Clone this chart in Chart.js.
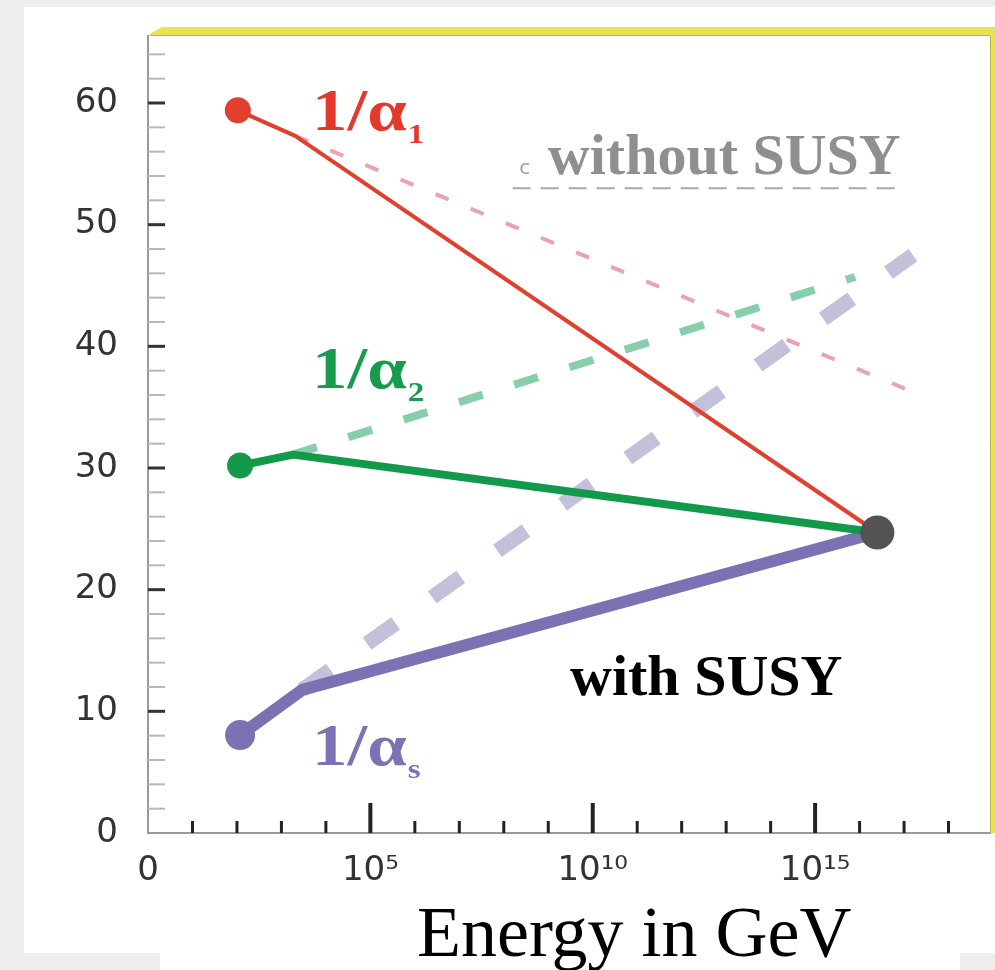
<!DOCTYPE html>
<html>
<head>
<meta charset="utf-8">
<script src="https://cdn.jsdelivr.net/npm/chart.js@4.4.1/dist/chart.umd.min.js"></script>
<style>
  html, body { margin: 0; padding: 0; background: #eeeeee; }
  #wrap { position: relative; width: 995px; height: 970px; }
</style>
</head>
<body>
<div id="wrap"><canvas id="gut"></canvas></div>
<script>
// x = log10(E / GeV), y = 1/alpha
const susyX1 = [2.02, 3.31, 16.4];
const susyY1 = [59.4, 57.3, 24.7];
const susyX2 = [2.07, 3.26, 16.4];
const susyY2 = [30.2, 31.1, 24.7];
const susyXs = [2.07, 3.46, 16.4];
const susyYs = [8.05, 11.75, 24.7];

// Standard Model running (no SUSY)
const smX1 = [3.31, 17.1];
const smY1 = [57.3, 36.4];
const smX2 = [3.26, 15.9];
const smY2 = [31.1, 45.7];
const smXs = [3.46, 17.2];
const smYs = [11.75, 47.5];

// unification point
const gutX = [16.4];
const gutY = [24.7];

const yTicks = [0, 10, 20, 30, 40, 50, 60];
const xTickLabels = { 0: '0', 5: '10⁵', 10: '10¹⁰', 15: '10¹⁵' };

function pts(xs, ys) {
    return xs.map((x, i) => ({ x: x, y: ys[i] }));
}

const serif = '"Liberation Serif", "DejaVu Serif", serif';
const sans = '"DejaVu Sans", "Liberation Sans", sans-serif';

// coupling labels, anchored in data units
const couplingLabels = [
    { text: '1/α', sub: '1', x: 3.69, y: 57.8, color: '#e2392c' },
    { text: '1/α', sub: '2', x: 3.69, y: 36.6, color: '#169c4c' },
    { text: '1/α', sub: 's', x: 3.69, y: 5.6, color: '#7b73b3' }
];

const decor = {
    id: 'decor',
    beforeDraw(chart) {
        const c = chart.ctx;
        c.save();
        c.fillStyle = '#eeeeee';
        c.fillRect(0, 0, chart.width, chart.height);
        c.fillStyle = '#ffffff';
        c.fillRect(24, 7, 971, 946);
        c.restore();
    },
    beforeDatasetsDraw(chart) {
        const c = chart.ctx;
        const a = chart.chartArea;
        const x = chart.scales.x, y = chart.scales.y;
        c.save();
        // yellow frame
        c.fillStyle = '#e9e251';
        c.beginPath();
        c.moveTo(a.left, a.top + 5);
        c.lineTo(a.left + 14, a.top - 3);
        c.lineTo(chart.width, a.top - 3);
        c.lineTo(chart.width, a.top + 5);
        c.closePath();
        c.fill();
        c.fillRect(a.right - 2, a.top - 3, 4, a.bottom - a.top + 3);
        c.strokeStyle = '#bdb547';
        c.lineWidth = 1;
        c.beginPath();
        c.moveTo(a.left + 2, a.top + 5.5);
        c.lineTo(a.right - 2.5, a.top + 5.5);
        c.lineTo(a.right - 2.5, a.bottom);
        c.stroke();

        // axis lines
        c.strokeStyle = '#9a9a9a';
        c.lineWidth = 2;
        c.beginPath();
        c.moveTo(a.left, a.top + 5);
        c.lineTo(a.left, a.bottom);
        c.lineTo(a.right - 2, a.bottom);
        c.stroke();

        // y ticks, pointing inwards
        for (let v = 2; v <= 64; v += 2) {
            const py = y.getPixelForValue(v);
            const major = v % 10 === 0;
            c.strokeStyle = major ? '#333333' : '#b8b8b8';
            c.lineWidth = major ? 3 : 2;
            c.beginPath();
            c.moveTo(a.left, py);
            c.lineTo(a.left + 17, py);
            c.stroke();
        }
        // x ticks, one per decade
        for (let v = 1; v <= 18; v++) {
            const px = x.getPixelForValue(v);
            const major = v % 5 === 0;
            c.strokeStyle = '#222222';
            c.lineWidth = major ? 4 : 3;
            c.beginPath();
            c.moveTo(px, a.bottom);
            c.lineTo(px, a.bottom - (major ? 30 : 12));
            c.stroke();
        }
        c.restore();
    },
    afterDatasetsDraw(chart) {
        const c = chart.ctx;
        const a = chart.chartArea;
        const x = chart.scales.x, y = chart.scales.y;
        c.save();
        c.textAlign = 'left';
        c.textBaseline = 'alphabetic';

        // the original artwork is a little stretched sideways
        couplingLabels.forEach(l => {
            c.save();
            c.translate(x.getPixelForValue(l.x), y.getPixelForValue(l.y));
            c.scale(1.18, 1);
            c.fillStyle = l.color;
            c.font = 'bold 60px ' + serif;
            c.fillText(l.text, 0, 0);
            const w = c.measureText(l.text).width;
            c.font = 'bold 28px ' + serif;
            c.fillText(l.sub, w + 1, 13);
            c.restore();
        });

        // "without SUSY" legend remnant
        c.strokeStyle = '#a8a8a8';
        c.lineWidth = 2;
        c.setLineDash([18, 10]);
        c.beginPath();
        c.moveTo(x.getPixelForValue(8.2), y.getPixelForValue(53.0));
        c.lineTo(x.getPixelForValue(16.95), y.getPixelForValue(53.0));
        c.stroke();
        c.setLineDash([]);
        c.fillStyle = '#a0a0a0';
        c.font = '20px ' + sans;
        c.fillText('c', x.getPixelForValue(8.35), y.getPixelForValue(54.2));

        let bx = x.getPixelForValue(8.66), by = y.getPixelForValue(59.4);
        c.fillStyle = '#ffffff';
        c.fillRect(bx, by, x.getPixelForValue(17.02) - bx, y.getPixelForValue(53.4) - by);
        c.fillStyle = '#8f8f8f';
        c.font = 'bold 58px ' + serif;
        c.fillText('without SUSY', x.getPixelForValue(8.99), y.getPixelForValue(54.2));

        // "with SUSY"
        bx = x.getPixelForValue(9.15); by = y.getPixelForValue(16.43);
        c.fillStyle = '#ffffff';
        c.fillRect(bx, by, x.getPixelForValue(18.37) - bx, y.getPixelForValue(7.89) - by);
        c.fillStyle = '#000000';
        c.font = 'bold 58px ' + serif;
        c.fillText('with SUSY', x.getPixelForValue(9.49), y.getPixelForValue(11.34));

        // axis title box
        c.fillStyle = '#ffffff';
        c.fillRect(a.left + 12, a.bottom + 52, 800, chart.height - a.bottom - 52);
        c.fillStyle = '#000000';
        c.font = '72px ' + serif;
        c.fillText('Energy in GeV', a.left + 269, a.bottom + 123);
        c.restore();
    }
};

const solid = (data, color, width, radius) => ({
    data: data,
    borderColor: color,
    backgroundColor: color,
    borderWidth: width,
    borderJoinStyle: 'round',
    pointRadius: [radius, 0, 0],
    pointBorderWidth: 0,
    pointBackgroundColor: color,
    tension: 0
});

const dashed = (data, color, width, dash) => ({
    data: data,
    borderColor: color,
    borderWidth: width,
    borderDash: dash,
    borderCapStyle: 'butt',
    pointRadius: 0,
    tension: 0
});

new Chart(document.getElementById('gut').getContext('2d'), {
    type: 'line',
    data: {
        datasets: [
            { data: pts(gutX, gutY), showLine: false, pointRadius: 17, pointBorderWidth: 0,
              pointBackgroundColor: '#545252', backgroundColor: '#545252' },
            solid(pts(susyX1, susyY1), '#e1402e', 4, 13),
            solid(pts(susyX2, susyY2), '#12994a', 8, 13),
            solid(pts(susyXs, susyYs), '#7a72b2', 12, 15),
            dashed(pts(smX1, smY1), '#e9a3ad', 4, [14, 24]),
            dashed(pts(smX2, smY2), '#86cfaa', 8, [25, 33]),
            dashed(pts(smXs, smYs), '#c3c1da', 15, [35, 45])
        ]
    },
    options: {
        responsive: true,
        maintainAspectRatio: false,
        devicePixelRatio: 1,
        animation: false,
        layout: { autoPadding: false, padding: { left: 24, top: 30, right: 2, bottom: 0 } },
        plugins: { legend: { display: false }, tooltip: { enabled: false } },
        scales: {
            x: {
                type: 'linear',
                min: 0,
                max: 19,
                grid: { display: false, drawTicks: false },
                border: { display: false },
                ticks: {
                    stepSize: 5,
                    includeBounds: false,
                    autoSkip: false,
                    maxRotation: 0,
                    padding: 18,
                    color: '#333333',
                    font: { family: sans, size: 34 },
                    callback: v => xTickLabels[v] ?? ''
                },
                afterFit: s => {
                    s.height = 137;
                    s.paddingLeft = 0;
                    s.paddingRight = 0;
                }
            },
            y: {
                type: 'linear',
                min: 0,
                max: 66,
                grid: { display: false, drawTicks: false },
                border: { display: false },
                afterBuildTicks: s => { s.ticks = yTicks.map(v => ({ value: v })); },
                ticks: {
                    padding: 30,
                    color: '#333333',
                    font: { family: sans, size: 34 }
                },
                afterFit: s => {
                    s.width = 124;
                    s.paddingTop = 0;
                    s.paddingBottom = 0;
                }
            }
        }
    },
    plugins: [decor]
});
</script>
</body>
</html>
